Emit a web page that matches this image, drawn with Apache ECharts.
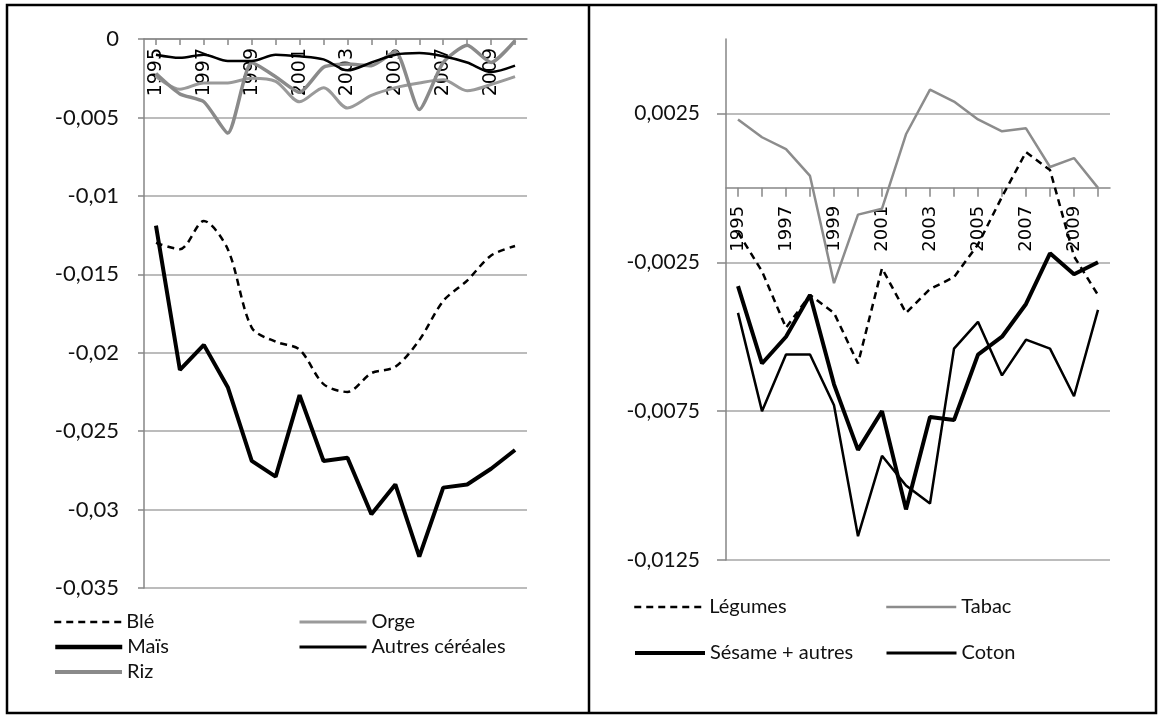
<!DOCTYPE html>
<html><head><meta charset="utf-8">
<script src="https://cdn.jsdelivr.net/npm/echarts@6/dist/echarts.min.js"></script>
<style>html,body{margin:0;padding:0;background:#fff}#c{width:1163px;height:719px}</style>
</head><body><div id="c"></div>
<script>
const years = ['1995','1996','1997','1998','1999','2000','2001','2002','2003','2004','2005','2006','2007','2008','2009','2010'];
// Left panel (céréales)
const ble    = [-0.0130,-0.0134,-0.0116,-0.0134,-0.0184,-0.0193,-0.0198,-0.0220,-0.0225,-0.0213,-0.0209,-0.0192,-0.0167,-0.0154,-0.0138,-0.0132];
const orge   = [-0.0024,-0.0032,-0.0028,-0.0028,-0.0025,-0.0027,-0.0040,-0.0031,-0.0044,-0.0036,-0.0031,-0.0028,-0.0026,-0.0033,-0.0029,-0.0024];
const mais   = [-0.0119,-0.0211,-0.0195,-0.0222,-0.0269,-0.0279,-0.0227,-0.0269,-0.0267,-0.0303,-0.0284,-0.0330,-0.0286,-0.0284,-0.0274,-0.0262];
const autres = [-0.0010,-0.0012,-0.0010,-0.0014,-0.0014,-0.0010,-0.0011,-0.0013,-0.0020,-0.0015,-0.0010,-0.0009,-0.0011,-0.0015,-0.0021,-0.0017];
const riz    = [-0.0022,-0.0035,-0.0040,-0.0060,-0.0015,-0.0024,-0.0034,-0.0018,-0.0016,-0.0017,-0.0008,-0.0045,-0.0015,-0.0004,-0.0015,-0.0001];
// Right panel
const legumes = [-0.0015,-0.0028,-0.0047,-0.0036,-0.0042,-0.0059,-0.0027,-0.0042,-0.0034,-0.0030,-0.0019,-0.0003,0.0012,0.0006,-0.0023,-0.0036];
const tabac   = [0.0023,0.0017,0.0013,0.0004,-0.0032,-0.0009,-0.0007,0.0018,0.0033,0.0029,0.0023,0.0019,0.0020,0.0007,0.0010,0.0000];
const sesame  = [-0.0033,-0.0059,-0.0050,-0.0036,-0.0066,-0.0088,-0.0075,-0.0108,-0.0077,-0.0078,-0.0056,-0.0050,-0.0039,-0.0022,-0.0029,-0.0025];
const coton   = [-0.0042,-0.0075,-0.0056,-0.0056,-0.0073,-0.0117,-0.0090,-0.0100,-0.0106,-0.0054,-0.0045,-0.0063,-0.0051,-0.0054,-0.0070,-0.0041];

const leftRange = { min: -0.035, max: 0, interval: 0.005 };
const rightRange = { min: -0.0125, max: 0.005, interval: 0.005 };

const fmt = v => { const n = Number(v.toFixed(5)); return String(n).replace('.', ','); };
const axisGray = '#868686';
const gridGray = '#a6a6a6';
const labelFont = 'Lato';

const G = [
  { left: 144, top: 39, width: 383, height: 549 },
  { left: 726, top: 39, width: 384, height: 521 }
];
// distance from grid bottom up to the value 0 (where the category axis sits)
const zeroFromBottom = (g, r) => g.height * (0 - r.min) / (r.max - r.min);

function xAx(gi, margin, tickLen, up, fs) {
  return {
    type: 'category', gridIndex: gi, data: years, boundaryGap: true,
    position: 'bottom', offset: -up,
    axisLine: { onZero: false, lineStyle: { color: axisGray, width: 1.5 } },
    axisTick: { show: true, alignWithLabel: true, interval: 0, length: tickLen, lineStyle: { color: axisGray, width: 1.5 } },
    axisLabel: { interval: 1, rotate: 90, margin: margin, fontFamily: 'DejaVu Sans', fontSize: fs, color: '#000' }
  };
}

const legendItem = (name, left, top, w, lw) => ({
  data: [name], left: left, top: top, itemWidth: w, itemHeight: 14, orient: 'horizontal',
  itemStyle: { opacity: 0 }, lineStyle: { width: lw },
  textStyle: { fontFamily: labelFont, fontSize: 20, color: '#111' }, selectedMode: false, padding: 0
});

const option = {
  animation: false,
  backgroundColor: '#fff',
  grid: G,
  xAxis: [ xAx(0, 9, 6, zeroFromBottom(G[0], leftRange), 19), xAx(1, 18, 9, zeroFromBottom(G[1], rightRange), 18) ],
  yAxis: [
    { type: 'value', gridIndex: 0, min: leftRange.min, max: leftRange.max, interval: leftRange.interval,
      axisLine: { show: true, onZero: false, lineStyle: { color: axisGray, width: 1.5 } },
      axisTick: { show: true, length: 6, lineStyle: { color: axisGray, width: 1.5 } },
      axisLabel: { formatter: fmt, margin: 25, fontFamily: labelFont, fontSize: 22, color: '#111' },
      splitLine: { show: true, lineStyle: { color: gridGray, width: 1.5 } } },
    { type: 'value', gridIndex: 1, min: rightRange.min, max: rightRange.max, interval: rightRange.interval,
      axisLine: { show: true, onZero: false, lineStyle: { color: axisGray, width: 1.5 } },
      axisTick: { show: true, length: 9, lineStyle: { color: axisGray, width: 1.5 } },
      axisLabel: { formatter: fmt, margin: 26, fontFamily: labelFont, fontSize: 21, color: '#111', showMaxLabel: false },
      splitLine: { show: true, showMaxLine: false, lineStyle: { color: gridGray, width: 1.5 } } }
  ],
  legend: [
    legendItem('Blé', 53, 612, 67, 2.5),
    legendItem('Orge', 298, 612, 67, 3),
    legendItem('Maïs', 53, 637, 67, 4.5),
    legendItem('Autres céréales', 298, 637, 67, 3),
    legendItem('Riz', 53, 662, 67, 4),
    legendItem('Légumes', 633, 597, 70, 2.5),
    legendItem('Tabac', 885, 597, 70, 2.5),
    legendItem('Sésame + autres', 633, 643, 70, 4),
    legendItem('Coton', 885, 643, 70, 3)
  ],
  graphic: [
    { type: 'rect', shape: { x: 7, y: 5, width: 1149, height: 708 }, style: { fill: 'none', stroke: '#000', lineWidth: 2.5 }, silent: true },
    { type: 'line', shape: { x1: 589, y1: 5, x2: 589, y2: 713 }, style: { stroke: '#000', lineWidth: 2.5 }, silent: true }
  ],
  series: [
    { name: 'Orge', type: 'line', xAxisIndex: 0, yAxisIndex: 0, data: orge, symbol: 'none', smooth: 0.3,
      lineStyle: { color: '#9a9a9a', width: 3 }, itemStyle: { color: '#9a9a9a' } },
    { name: 'Riz', type: 'line', xAxisIndex: 0, yAxisIndex: 0, data: riz, symbol: 'none', smooth: 0.2,
      lineStyle: { color: '#8a8a8a', width: 3.5 }, itemStyle: { color: '#8a8a8a' } },
    { name: 'Autres céréales', type: 'line', xAxisIndex: 0, yAxisIndex: 0, data: autres, symbol: 'none', smooth: 0.3,
      lineStyle: { color: '#000', width: 2.5 }, itemStyle: { color: '#000' } },
    { name: 'Blé', type: 'line', xAxisIndex: 0, yAxisIndex: 0, data: ble, symbol: 'none', smooth: 0.3,
      lineStyle: { color: '#000', width: 2.5, type: [7, 5] }, itemStyle: { color: '#000' } },
    { name: 'Maïs', type: 'line', xAxisIndex: 0, yAxisIndex: 0, data: mais, symbol: 'none',
      lineStyle: { color: '#000', width: 4 }, itemStyle: { color: '#000' } },
    { name: 'Tabac', type: 'line', xAxisIndex: 1, yAxisIndex: 1, data: tabac, symbol: 'none',
      lineStyle: { color: '#8c8c8c', width: 2.5 }, itemStyle: { color: '#8c8c8c' } },
    { name: 'Légumes', type: 'line', xAxisIndex: 1, yAxisIndex: 1, data: legumes, symbol: 'none',
      lineStyle: { color: '#000', width: 2.5, type: [7, 5] }, itemStyle: { color: '#000' } },
    { name: 'Coton', type: 'line', xAxisIndex: 1, yAxisIndex: 1, data: coton, symbol: 'none',
      lineStyle: { color: '#000', width: 2.5 }, itemStyle: { color: '#000' } },
    { name: 'Sésame + autres', type: 'line', xAxisIndex: 1, yAxisIndex: 1, data: sesame, symbol: 'none',
      lineStyle: { color: '#000', width: 4 }, itemStyle: { color: '#000' } }
  ]
};
echarts.init(document.getElementById('c'), null, { renderer: 'canvas' }).setOption(option);
</script></body></html>
